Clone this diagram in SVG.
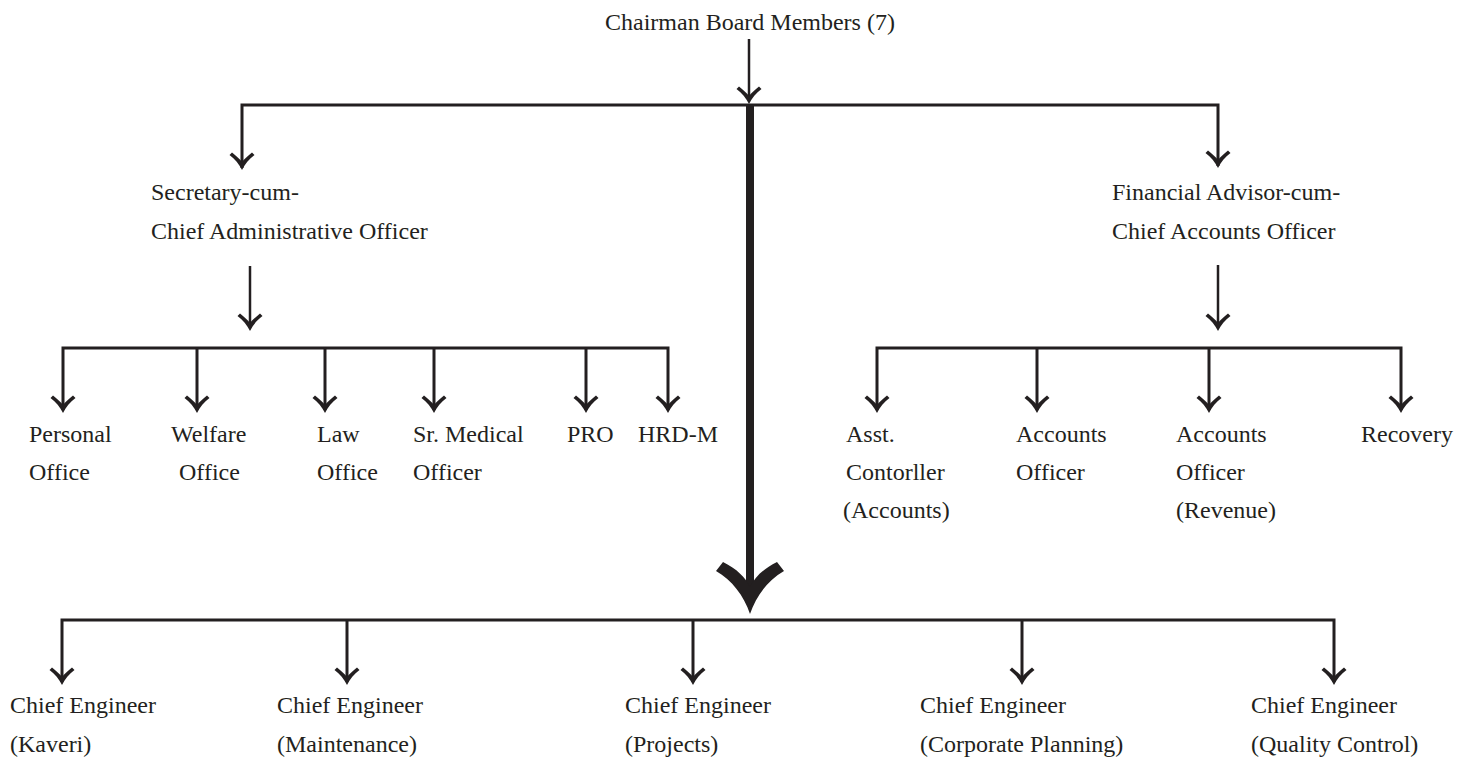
<svg xmlns="http://www.w3.org/2000/svg" xmlns:xlink="http://www.w3.org/1999/xlink" width="1463" height="765" viewBox="0 0 1463 765">
  <style>
    text { font-family: "Liberation Serif", "Times New Roman", serif; font-size: 24px; fill: #231f20; }
    .ln { stroke: #231f20; stroke-width: 3; fill: none; }
    .thin { stroke: #231f20; stroke-width: 2.5; fill: none; }
    .head { fill: #231f20; }
  </style>
  <defs>
    <!-- swept arrowhead, tip at origin pointing down -->
    <path id="ah" d="M0,1 C-3,-5 -7,-10 -12.5,-14 L-10,-16.5 C-6,-13 -2,-10 0,-7 C2,-10 6,-13 10,-16.5 L12.5,-14 C7,-10 3,-5 0,1 Z"/>
  </defs>

  <rect width="1463" height="765" fill="#fff"/>

  <g id="connectors">
    <!-- chairman to top bus -->
    <line class="thin" x1="749" y1="39" x2="749" y2="100"/>
    <use href="#ah" class="head" x="749" y="103"/>
    <!-- top bus -->
    <polyline class="ln" points="242,168 242,105 1218,105 1218,166"/>
    <use href="#ah" class="head" x="242" y="169"/>
    <use href="#ah" class="head" x="1218" y="167"/>
    <!-- main trunk to chief engineers -->
    <rect class="head" x="746" y="104" width="8" height="486"/>
    <path class="head" d="M750,614 C744,596 732,580 716,571 L723,562 C737,569 745,577 750,587 C755,577 763,569 777,562 L784,571 C768,580 756,596 750,614 Z"/>

    <!-- secretary branch -->
    <line class="thin" x1="250" y1="266" x2="250" y2="326"/>
    <use href="#ah" class="head" x="250" y="330"/>
    <polyline class="ln" points="63,410 63,348 668,348 668,410"/>
    <line class="ln" x1="197" y1="348" x2="197" y2="410"/>
    <line class="ln" x1="325" y1="348" x2="325" y2="410"/>
    <line class="ln" x1="434" y1="348" x2="434" y2="410"/>
    <line class="ln" x1="586" y1="348" x2="586" y2="410"/>
    <use href="#ah" class="head" x="63" y="412"/>
    <use href="#ah" class="head" x="197" y="412"/>
    <use href="#ah" class="head" x="325" y="412"/>
    <use href="#ah" class="head" x="434" y="412"/>
    <use href="#ah" class="head" x="586" y="412"/>
    <use href="#ah" class="head" x="668" y="412"/>

    <!-- finance branch -->
    <line class="thin" x1="1218" y1="265" x2="1218" y2="326"/>
    <use href="#ah" class="head" x="1218" y="330"/>
    <polyline class="ln" points="877,410 877,348 1401,348 1401,410"/>
    <line class="ln" x1="1037" y1="348" x2="1037" y2="410"/>
    <line class="ln" x1="1209" y1="348" x2="1209" y2="410"/>
    <use href="#ah" class="head" x="877" y="412"/>
    <use href="#ah" class="head" x="1037" y="412"/>
    <use href="#ah" class="head" x="1209" y="412"/>
    <use href="#ah" class="head" x="1401" y="412"/>

    <!-- engineering bus -->
    <polyline class="ln" points="62,682 62,620 1334,620 1334,682"/>
    <line class="ln" x1="347" y1="620" x2="347" y2="682"/>
    <line class="ln" x1="693" y1="620" x2="693" y2="682"/>
    <line class="ln" x1="1022" y1="620" x2="1022" y2="682"/>
    <use href="#ah" class="head" x="62" y="684"/>
    <use href="#ah" class="head" x="347" y="684"/>
    <use href="#ah" class="head" x="693" y="684"/>
    <use href="#ah" class="head" x="1022" y="684"/>
    <use href="#ah" class="head" x="1334" y="684"/>
  </g>

  <g id="chairman"><text x="605" y="30">Chairman Board Members (7)</text></g>

  <g id="secretary">
    <text x="151" y="200">Secretary-cum-</text>
    <text x="151" y="239">Chief Administrative Officer</text>
  </g>
  <g id="finance">
    <text x="1112" y="200">Financial Advisor-cum-</text>
    <text x="1112" y="239">Chief Accounts Officer</text>
  </g>

  <g id="personal"><text x="29" y="442">Personal</text><text x="29" y="480">Office</text></g>
  <g id="welfare"><text x="171" y="442">Welfare</text><text x="179" y="480">Office</text></g>
  <g id="law"><text x="317" y="442">Law</text><text x="317" y="480">Office</text></g>
  <g id="medical"><text x="413" y="442">Sr. Medical</text><text x="413" y="480">Officer</text></g>
  <g id="pro"><text x="567" y="442">PRO</text></g>
  <g id="hrd"><text x="638" y="442">HRD-M</text></g>

  <g id="asst-controller"><text x="846" y="442">Asst.</text><text x="846" y="480">Contorller</text><text x="843" y="518">(Accounts)</text></g>
  <g id="accounts-officer"><text x="1016" y="442">Accounts</text><text x="1016" y="480">Officer</text></g>
  <g id="accounts-revenue"><text x="1176" y="442">Accounts</text><text x="1176" y="480">Officer</text><text x="1176" y="518">(Revenue)</text></g>
  <g id="recovery"><text x="1361" y="442">Recovery</text></g>

  <g id="ce-kaveri"><text x="10" y="713">Chief Engineer</text><text x="10" y="752">(Kaveri)</text></g>
  <g id="ce-maintenance"><text x="277" y="713">Chief Engineer</text><text x="277" y="752">(Maintenance)</text></g>
  <g id="ce-projects"><text x="625" y="713">Chief Engineer</text><text x="625" y="752">(Projects)</text></g>
  <g id="ce-corporate"><text x="920" y="713">Chief Engineer</text><text x="920" y="752">(Corporate Planning)</text></g>
  <g id="ce-quality"><text x="1251" y="713">Chief Engineer</text><text x="1251" y="752">(Quality Control)</text></g>
</svg>
